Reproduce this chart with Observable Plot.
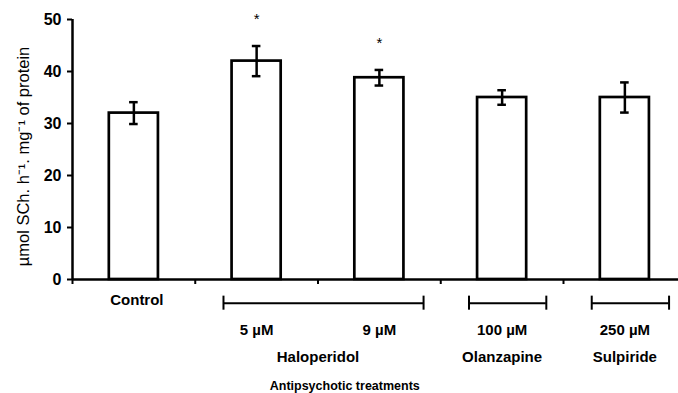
<!DOCTYPE html>
<html><head><meta charset="utf-8">
<script src="https://cdn.jsdelivr.net/npm/d3@7"></script>
<script src="https://cdn.jsdelivr.net/npm/@observablehq/plot@0.6"></script>
<style>body{margin:0;background:#fff} svg{display:block}</style>
</head><body><div id="chart"></div>
<script>
const categories = ["Control", "Haloperidol 5 µM", "Haloperidol 9 µM", "Olanzapine 100 µM", "Sulpiride 250 µM"];
const means = [32, 42, 38.8, 35, 35];
const errors = [2.1, 2.9, 1.5, 1.4, 2.9];
const significant = [false, true, true, false, false];
const doseLabels = ["Control", "5 µM", "9 µM", "100 µM", "250 µM"];
const drugs = [null, "Haloperidol", "Haloperidol", "Olanzapine", "Sulpiride"];
const yTicks = [0, 10, 20, 30, 40, 50];
const xTitle = "Antipsychotic treatments";
const yTitle = "µmol SCh. h⁻¹. mg⁻¹ of protein";

const rows = categories.map((c, i) => ({category: c, i, mean: means[i], err: errors[i], sig: significant[i], dose: doseLabels[i], drug: drugs[i]}));
const groups = d3.groups(rows.filter(d => d.drug), d => d.drug).map(([drug, rs]) => ({
  drug, from: d3.min(rs, r => r.i), to: d3.max(rs, r => r.i), mid: d3.mean(rs, r => r.i)
}));
const bracketEnds = groups.flatMap(g => [g.from - 0.27, g.to + 0.36]);
const treatmentCenter = d3.mean(rows.filter(d => d.drug), d => d.i);

const font = "'Liberation Sans', Arial, sans-serif";
const plot = Plot.plot({
  width: 678, height: 393,
  marginTop: 19, marginLeft: 72, marginRight: -7.75, marginBottom: 114,
  style: {fontFamily: font, background: "white", color: "black"},
  x: {type: "linear", domain: [-0.5, 4.5], axis: null},
  y: {domain: [0, 50], axis: null},
  marks: [
    Plot.rectY(rows, {x1: d => d.i - 0.2, x2: d => d.i + 0.2, y1: 0, y2: "mean", fill: "white", stroke: "black", strokeWidth: 2.7}),
    Plot.ruleX(rows, {x: "i", y1: d => d.mean - d.err, y2: d => d.mean + d.err, stroke: "black", strokeWidth: 2.5}),
    Plot.ruleY(rows, {y: d => d.mean + d.err, x1: d => d.i - 0.035, x2: d => d.i + 0.035, stroke: "black", strokeWidth: 2.5}),
    Plot.ruleY(rows, {y: d => d.mean - d.err, x1: d => d.i - 0.035, x2: d => d.i + 0.035, stroke: "black", strokeWidth: 2.5}),
    Plot.text(rows.filter(d => d.sig), {x: "i", y: d => d.mean + d.err, text: () => "*", dy: -27, fontSize: 15}),
    Plot.ruleX([-0.5], {y1: 0, y2: 50, stroke: "black", strokeWidth: 2.5}),
    Plot.ruleY([0], {stroke: "black", strokeWidth: 2.5}),
    Plot.axisY({ticks: yTicks, tickSize: 5, tickPadding: 6, fontSize: 16, fontWeight: "bold", strokeWidth: 2, label: null}),
    Plot.axisX({ticks: d3.range(-0.5, 5, 1), tickSize: 5, tickFormat: () => "", strokeWidth: 2, label: null}),
    Plot.text(rows.filter(d => !d.drug), {x: "i", y: -4, text: "dose", dx: 3, fontSize: 15, fontWeight: "bold"}),
    Plot.ruleY(groups, {y: -4.55, x1: d => d.from - 0.27, x2: d => d.to + 0.36, stroke: "black", strokeWidth: 2}),
    Plot.ruleX(bracketEnds, {x: d => d, y1: -3.2, y2: -5.9, stroke: "black", strokeWidth: 2}),
    Plot.text(rows.filter(d => d.drug), {x: "i", y: -9.75, text: "dose", fontSize: 15, fontWeight: "bold"}),
    Plot.text(groups, {x: "mid", y: -14.9, text: "drug", fontSize: 15, fontWeight: "bold"}),
    Plot.text([xTitle], {x: treatmentCenter, y: -20.5, text: d => d, dx: -96, fontSize: 12.5, fontWeight: "bold"}),
    Plot.text([yTitle], {frameAnchor: "left", textAnchor: "middle", rotate: -90, text: d => d, dx: -49, dy: 7, fontSize: 16.5})
  ]
});
document.getElementById("chart").append(plot);
</script>
</body></html>
